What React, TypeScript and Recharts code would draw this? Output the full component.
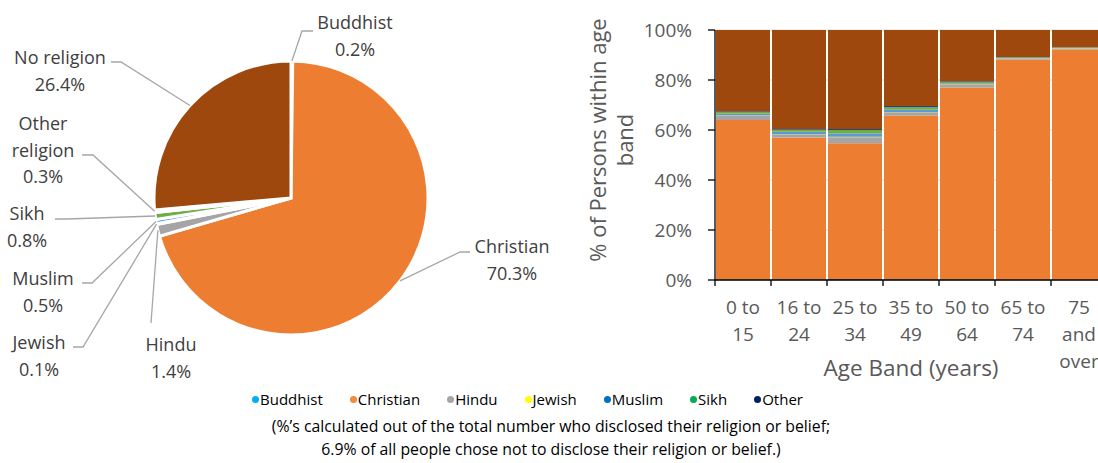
import React from "react";
import {
  PieChart,
  Pie,
  Cell,
  BarChart,
  Bar,
  XAxis,
  YAxis,
  CartesianGrid,
} from "recharts";

// 宗教・信仰の全体比率（%）
const RELIGIONS = [
  "Buddhist",
  "Christian",
  "Hindu",
  "Jewish",
  "Muslim",
  "Sikh",
  "Other religion",
  "No religion",
];
const OVERALL_SHARE = [0.2, 70.3, 1.4, 0.1, 0.5, 0.8, 0.3, 26.4];

// 年齢帯別（%）
const AGE_BANDS = ["0 to 15", "16 to 24", "25 to 34", "35 to 49", "50 to 64", "65 to 74", "75 and over"];
const AGE_BAND_LINES = [
  ["0 to", "15"],
  ["16 to", "24"],
  ["25 to", "34"],
  ["35 to", "49"],
  ["50 to", "64"],
  ["65 to", "74"],
  ["75", "and", "over"],
];
const BUDDHIST_BY_AGE = [0.2, 0.3, 0.4, 0.3, 0.2, 0.1, 0.1];
const CHRISTIAN_BY_AGE = [63.8, 56.7, 54.3, 65.4, 76.7, 88.0, 92.0];
const HINDU_BY_AGE = [1.8, 1.2, 2.4, 1.4, 1.4, 0.5, 0.4];
const JEWISH_BY_AGE = [0.1, 0.1, 0.2, 0.1, 0.1, 0.1, 0.2];
const MUSLIM_BY_AGE = [0.6, 1.0, 1.3, 0.9, 0.3, 0.1, 0.1];
const SIKH_BY_AGE = [0.7, 0.8, 1.4, 1.0, 0.5, 0.3, 0.2];
const OTHER_BY_AGE = [0.3, 0.3, 0.4, 0.5, 0.3, 0.1, 0.1];
const NONE_BY_AGE = [32.5, 39.6, 39.6, 30.4, 20.5, 10.8, 6.9];
const Y_TICKS = [0, 20, 40, 60, 80, 100];

// 凡例（図の下）
const LEGEND_NAMES = ["Buddhist", "Christian", "Hindu", "Jewish", "Muslim", "Sikh", "Other"];
const LEGEND_COLORS = ["#00B0F0", "#F08A3E", "#A5A5A5", "#FFFF00", "#0070C0", "#00B050", "#002060"];

const SERIES_COLORS = ["#4472C4", "#ED7D31", "#A5A5A5", "#FFC000", "#5B9BD5", "#70AD47", "#264478", "#9E480E"];
const SERIES_KEYS = ["buddhist", "christian", "hindu", "jewish", "muslim", "sikh", "other", "none"];
const SERIES_VALUES = [
  BUDDHIST_BY_AGE,
  CHRISTIAN_BY_AGE,
  HINDU_BY_AGE,
  JEWISH_BY_AGE,
  MUSLIM_BY_AGE,
  SIKH_BY_AGE,
  OTHER_BY_AGE,
  NONE_BY_AGE,
];

const FONT = "'Open Sans', sans-serif";
const RAD = Math.PI / 180;

// パイのラベル配置（テキスト中心・引き出し線の折れ点）
const PIE_LABEL_LAYOUT = [
  { tx: 355, ty: 22, elbow: [302, 31], end: [313, 31] },
  { tx: 512, ty: 246, elbow: [460, 252], end: [470, 252] },
  { tx: 171, ty: 344, elbow: [151, 323], end: null },
  { tx: 39, ty: 342, elbow: [83, 347], end: [73, 347] },
  { tx: 43, ty: 278, elbow: [92, 283], end: [82, 283] },
  { tx: 27, ty: 213, elbow: [67, 219], end: [55, 219] },
  { tx: 43, ty: 123, elbow: [93, 155], end: [82, 155] },
  { tx: 60, ty: 57, elbow: [121, 62], end: [111, 62] },
];

const PLOT_W = 392;
const BAND_W = PLOT_W / AGE_BANDS.length;

const pieData = RELIGIONS.map((name, i) => ({ name, value: OVERALL_SHARE[i] }));

const barData = AGE_BANDS.map((band, i) => {
  const row: any = { band };
  SERIES_KEYS.forEach((k, s) => (row[k] = SERIES_VALUES[s][i]));
  return row;
});

function PieLabel(props: any) {
  const { cx, cy, midAngle, outerRadius, index } = props;
  const layout = PIE_LABEL_LAYOUT[index];
  const sx = cx + outerRadius * Math.cos(-midAngle * RAD);
  const sy = cy + outerRadius * Math.sin(-midAngle * RAD);
  const name = RELIGIONS[index];
  const lines = name === "Other religion" ? ["Other", "religion"] : [name];
  lines.push(`${OVERALL_SHARE[index].toFixed(1)}%`);
  const pts = [[sx, sy], layout.elbow];
  if (layout.end) pts.push(layout.end);
  return (
    <g>
      <polyline
        points={pts.map((p) => p.join(",")).join(" ")}
        fill="none"
        stroke="#A6A6A6"
        strokeWidth={1.3}
      />
      {lines.map((t, i) => (
        <text
          key={i}
          x={layout.tx}
          y={layout.ty + i * 26.5}
          textAnchor="middle"
          dominantBaseline="central"
          fill="#404040"
          fontSize={18}
          fontFamily={FONT}
        >
          {t}
        </text>
      ))}
    </g>
  );
}

function AgeTick({ x, y, index }: any) {
  const half = BAND_W / 2;
  const last = index === AGE_BANDS.length - 1;
  return (
    <g>
      <line x1={x - half} x2={x - half} y1={y} y2={y + 6} stroke="#000" strokeWidth={1.3} />
      {last && <line x1={x + half} x2={x + half} y1={y} y2={y + 6} stroke="#000" strokeWidth={1.3} />}
      {AGE_BAND_LINES[index].map((t, i) => (
        <text
          key={i}
          x={x}
          y={y + 27 + i * 27}
          textAnchor="middle"
          dominantBaseline="central"
          fill="#595959"
          fontSize={19}
          fontFamily={FONT}
        >
          {t}
        </text>
      ))}
    </g>
  );
}

function YTitle({ viewBox }: any) {
  const cy = 140;
  const lines = ["% of Persons within age", "band"];
  return (
    <g>
      {lines.map((t, i) => {
        const x = viewBox.x + 27 + i * 27;
        return (
          <text
            key={i}
            x={x}
            y={cy}
            transform={`rotate(-90, ${x}, ${cy})`}
            textAnchor="middle"
            dominantBaseline="central"
            fill="#595959"
            fontSize={22}
            fontFamily={FONT}
          >
            {t}
          </text>
        );
      })}
    </g>
  );
}

function XTitle({ viewBox }: any) {
  return (
    <text
      x={viewBox.x + viewBox.width / 2}
      y={viewBox.y + 87}
      textAnchor="middle"
      dominantBaseline="central"
      fill="#595959"
      fontSize={22.5}
      fontFamily={FONT}
    >
      Age Band (years)
    </text>
  );
}

export default function App() {
  return (
    <div
      style={{
        position: "fixed",
        left: 0,
        top: 0,
        width: 1098,
        height: 463,
        overflow: "hidden",
        background: "#fff",
        fontFamily: FONT,
      }}
    >
      <div style={{ position: "absolute", left: 0, top: 0 }}>
        <PieChart width={570} height={385}>
          <Pie
            data={pieData}
            dataKey="value"
            nameKey="name"
            cx={286}
            cy={193}
            outerRadius={137}
            startAngle={90}
            endAngle={-270}
            stroke="#fff"
            strokeWidth={3}
            label={PieLabel}
            labelLine={false}
            isAnimationActive={false}
          >
            {pieData.map((d, i) => (
              <Cell key={d.name} fill={SERIES_COLORS[i]} />
            ))}
          </Pie>
        </PieChart>
      </div>

      <div style={{ position: "absolute", left: 570, top: 0 }}>
        <BarChart
          width={537}
          height={405}
          data={barData}
          margin={{ top: 30, right: 0, bottom: 25, left: 0 }}
          barCategoryGap={1}
        >
          <CartesianGrid vertical={false} stroke="#D9D9D9" />
          <XAxis
            dataKey="band"
            height={100}
            tick={<AgeTick />}
            tickLine={false}
            tickSize={0}
            tickMargin={0}
            axisLine={{ stroke: "#000", strokeWidth: 1.3 }}
            interval={0}
            label={XTitle}
          />
          <YAxis
            width={145}
            domain={[0, 100]}
            ticks={Y_TICKS}
            tickFormatter={(v) => `${v}%`}
            tick={{ fill: "#595959", fontSize: 19, fontFamily: FONT }}
            tickSize={7}
            tickMargin={16}
            tickLine={{ stroke: "#000", strokeWidth: 1.3 }}
            axisLine={{ stroke: "#000", strokeWidth: 1.3 }}
            label={YTitle}
          />
          {SERIES_KEYS.map((k, s) => (
            <Bar key={k} dataKey={k} stackId="s" fill={SERIES_COLORS[s]} isAnimationActive={false} />
          ))}
        </BarChart>
      </div>

      {/* 凡例 */}
      <div
        style={{
          position: "absolute",
          left: 252,
          top: 389,
          display: "flex",
          gap: 27,
          fontSize: 15,
          lineHeight: "20px",
          color: "#000",
        }}
      >
        {LEGEND_NAMES.map((n, i) => (
          <span key={n} style={{ display: "flex", alignItems: "center" }}>
            <span
              style={{
                width: 7,
                height: 7,
                borderRadius: "50%",
                background: LEGEND_COLORS[i],
                marginRight: 1,
              }}
            />
            {n}
          </span>
        ))}
      </div>

      {/* 注記 */}
      <div
        style={{
          position: "absolute",
          left: 0,
          top: 415,
          width: 1102,
          textAlign: "center",
          fontSize: 15.8,
          lineHeight: "23px",
          color: "#000",
        }}
      >
        (%’s calculated out of the total number who disclosed their religion or belief;
        <br />
        6.9% of all people chose not to disclose their religion or belief.)
      </div>
    </div>
  );
}
